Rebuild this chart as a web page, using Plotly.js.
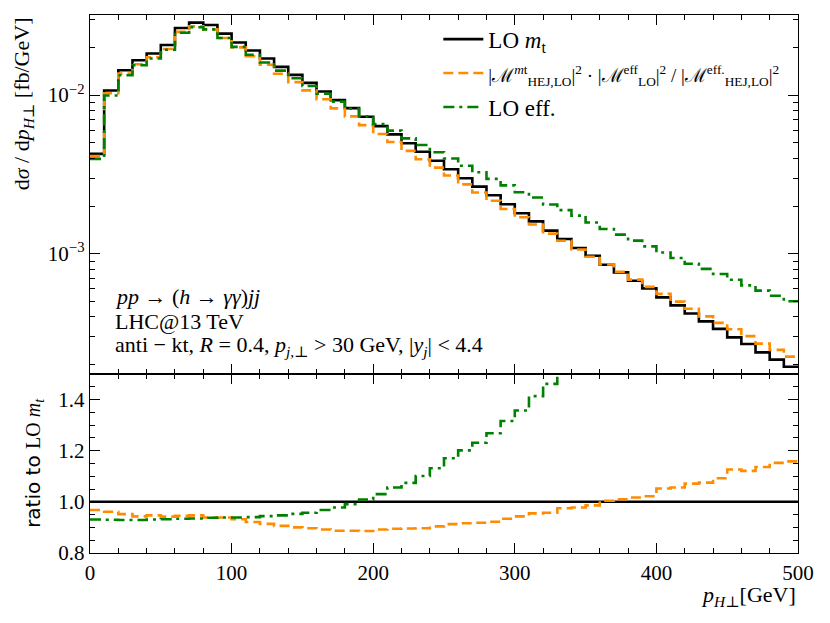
<!DOCTYPE html>
<html>
<head>
<meta charset="utf-8">
<script src="https://cdn.plot.ly/plotly-3.0.1.min.js"></script>
<style>html,body{margin:0;padding:0;background:#fff}#plot{width:830px;height:623px}</style>
</head>
<body>
<div id="plot"></div>
<script>
// bin edges in GeV
const binEdges = [0,10,20,30,40,50,60,70,80,90,100,110,120,130,140,150,160,170,180,190,200,210,220,230,240,250,260,270,280,290,300,310,320,330,340,350,360,370,380,390,400,410,420,430,440,450,460,470,480,490,500];
// LO m_t  (fb/GeV), one value per bin
const loMt = [4.26e-3,1.070e-2,1.436e-2,1.660e-2,1.829e-2,2.072e-2,2.650e-2,2.866e-2,2.768e-2,2.443e-2,
  2.145e-2,1.910e-2,1.702e-2,1.507e-2,1.342e-2,1.194e-2,1.055e-2,9.30e-3,8.28e-3,7.30e-3,
  6.38e-3,5.66e-3,4.97e-3,4.40e-3,3.86e-3,3.41e-3,2.99e-3,2.65e-3,2.34e-3,2.05e-3,
  1.80e-3,1.60e-3,1.40e-3,1.24e-3,1.087e-3,9.71e-4,8.53e-4,7.63e-4,6.76e-4,6.05e-4,
  5.31e-4,4.73e-4,4.20e-4,3.75e-4,3.36e-4,2.97e-4,2.70e-4,2.39e-4,2.15e-4,1.94e-4];
// ratio of reweighted HEJ to LO m_t
const ratioHEJ = [0.968,0.961,0.952,0.943,0.947,0.942,0.945,0.947,0.939,0.939,
  0.932,0.921,0.914,0.906,0.900,0.897,0.892,0.887,0.887,0.886,
  0.892,0.895,0.896,0.897,0.904,0.913,0.916,0.918,0.922,0.934,
  0.943,0.955,0.957,0.975,0.978,0.986,1.004,1.010,1.017,1.022,
  1.052,1.056,1.071,1.075,1.092,1.126,1.121,1.136,1.152,1.158];
// ratio of LO eff. to LO m_t
const ratioEff = [0.931,0.930,0.929,0.929,0.931,0.932,0.934,0.935,0.938,0.939,
  0.939,0.940,0.944,0.947,0.953,0.957,0.968,0.978,0.991,1.009,
  1.030,1.056,1.074,1.101,1.131,1.170,1.201,1.231,1.268,1.316,
  1.357,1.413,1.461,1.52,1.60,1.62,1.68,1.73,1.79,1.84,
  1.92,1.99,2.06,2.14,2.22,2.31,2.34,2.45,2.53,2.59];

const xTickVals = [0,100,200,300,400,500];
const xTickText = ['0','100','200','300','400','500'];
const yTopTickVals = [1e-3,1e-2];
const yTopTickText = ['10<sup>−3</sup>','10<sup>−2</sup>'];
const yTopMinor = [2e-4,3e-4,4e-4,5e-4,6e-4,7e-4,8e-4,9e-4,2e-3,3e-3,4e-3,5e-3,6e-3,7e-3,8e-3,9e-3,2e-2,3e-2];
const yBotTickVals = [0.8,1.0,1.2,1.4];
const yBotTickText = ['0.8','1.0','1.2','1.4'];

function stepY(arr){ return arr.concat([arr[arr.length-1]]); }
const hej = loMt.map((v,i)=>v*ratioHEJ[i]);
const eff = loMt.map((v,i)=>v*ratioEff[i]);
const ones = loMt.map(()=>1);

const serif = 'Liberation Serif, DejaVu Serif, serif';
const cBlack = '#000000', cOrange = '#ff8c00', cGreen = '#008000';
const dashO = '10px,5px', dashG = '11px,5px,3px,5px';

const traces = [
  {x: binEdges, y: stepY(loMt), mode:'lines', line:{shape:'hv', color:cBlack, width:2.6},
   name:'LO <i>m</i><sub>t</sub>', legendgroup:'a', xaxis:'x', yaxis:'y'},
  {x: binEdges, y: stepY(hej), mode:'lines', line:{shape:'hv', color:cOrange, width:2.6, dash:dashO},
   name:'<span style="font-size:19px">|ℳ<sup><i>m</i>t</sup><sub>HEJ,LO</sub>|<sup>2</sup> · |ℳ<sup>eff</sup><sub>LO</sub>|<sup>2</sup> / |ℳ<sup>eff.</sup><sub>HEJ,LO</sub>|<sup>2</sup></span>',
   legendgroup:'b', xaxis:'x', yaxis:'y'},
  {x: binEdges, y: stepY(eff), mode:'lines', line:{shape:'hv', color:cGreen, width:2.6, dash:dashG},
   name:'LO eff.', legendgroup:'c', xaxis:'x', yaxis:'y'},
  {x: binEdges, y: stepY(ones), mode:'lines', line:{shape:'hv', color:cBlack, width:2.6},
   showlegend:false, xaxis:'x2', yaxis:'y2'},
  {x: binEdges, y: stepY(ratioHEJ), mode:'lines', line:{shape:'hv', color:cOrange, width:2.6, dash:dashO},
   showlegend:false, xaxis:'x2', yaxis:'y2'},
  {x: binEdges, y: stepY(ratioEff), mode:'lines', line:{shape:'hv', color:cGreen, width:2.6, dash:dashG},
   showlegend:false, xaxis:'x2', yaxis:'y2'}
];

const axCommon = {showline:true, linecolor:'#000', linewidth:1.3, mirror:'allticks', ticks:'inside',
  ticklen:10, tickwidth:1.2, tickcolor:'#000', showgrid:false, zeroline:false,
  tickfont:{family:serif, size:21, color:'#000'}};

const layout = {
  width:830, height:623,
  margin:{l:90, r:32, t:15, b:70},
  paper_bgcolor:'#fff', plot_bgcolor:'#fff',
  showlegend:true,
  legend:{x:0.492, y:0.995, xanchor:'left', yanchor:'top', bgcolor:'rgba(0,0,0,0)',
    font:{family:serif, size:23, color:'#000'}, tracegroupgap:1, itemwidth:40},
  xaxis: Object.assign({}, axCommon, {domain:[0,1], range:[0,500], anchor:'y', showticklabels:false,
    tickmode:'array', tickvals:xTickVals,
    minor:{tickmode:'linear', tick0:0, dtick:20, ticklen:5, tickwidth:1, tickcolor:'#000', ticks:'inside'}}),
  yaxis: Object.assign({}, axCommon, {domain:[0.333,1], type:'log', range:[Math.log10(1.75e-4), Math.log10(0.032)],
    anchor:'x', tickmode:'array', tickvals:yTopTickVals, ticktext:yTopTickText,
    minor:{tickmode:'array', tickvals:yTopMinor, ticklen:5, tickwidth:1, tickcolor:'#000', ticks:'inside'}}),
  xaxis2: Object.assign({}, axCommon, {domain:[0,1], range:[0,500], anchor:'y2',
    tickmode:'array', tickvals:xTickVals, ticktext:xTickText,
    minor:{tickmode:'linear', tick0:0, dtick:20, ticklen:5, tickwidth:1, tickcolor:'#000', ticks:'inside'}}),
  yaxis2: Object.assign({}, axCommon, {domain:[0,0.333], range:[0.8,1.5], anchor:'x2',
    tickmode:'array', tickvals:yBotTickVals, ticktext:yBotTickText,
    minor:{tickmode:'linear', tick0:0.8, dtick:0.05, ticklen:5, tickwidth:1, tickcolor:'#000', ticks:'inside'},
    title:{text:'ratio to <span style="font-family:Liberation Serif">LO <i>m</i><sub><i>t</i></sub></span>', font:{family:'DejaVu Sans, sans-serif', size:20, color:'#000'}, standoff:12}}),
  annotations:[
    {xref:'paper', yref:'paper', x:-0.095, y:1, xanchor:'center', yanchor:'top', textangle:-90, showarrow:false,
     text:'d<i>σ</i> / d<i>p</i><sub><i>H</i>⊥</sub> [fb/GeV]', font:{family:serif, size:22, color:'#000'}},
    {xref:'paper', yref:'paper', x:1, y:-0.079, xanchor:'right', yanchor:'middle', showarrow:false,
     text:'<i>p</i><sub><i>H</i>⊥</sub>[GeV]', font:{family:serif, size:22, color:'#000'}},
    {xref:'paper', yref:'paper', x:0.033, y:0.476, xanchor:'left', yanchor:'middle', showarrow:false,
     text:'<i>pp</i> → (<i>h</i> → <i>γγ</i>)<i>jj</i>', font:{family:serif, size:22, color:'#000'}},
    {xref:'paper', yref:'paper', x:0.033, y:0.43, xanchor:'left', yanchor:'middle', showarrow:false,
     text:'LHC@13 TeV', font:{family:serif, size:22, color:'#000'}},
    {xref:'paper', yref:'paper', x:0.033, y:0.384, xanchor:'left', yanchor:'middle', showarrow:false,
     text:'anti − kt, <i>R</i> = 0.4, <i>p</i><sub><i>j</i>,⊥</sub> > 30 GeV, |<i>y</i><sub><i>j</i></sub>| < 4.4', font:{family:serif, size:22, color:'#000'}}
  ]
};

Plotly.newPlot('plot', traces, layout, {staticPlot:true, displayModeBar:false});
</script>
</body>
</html>
